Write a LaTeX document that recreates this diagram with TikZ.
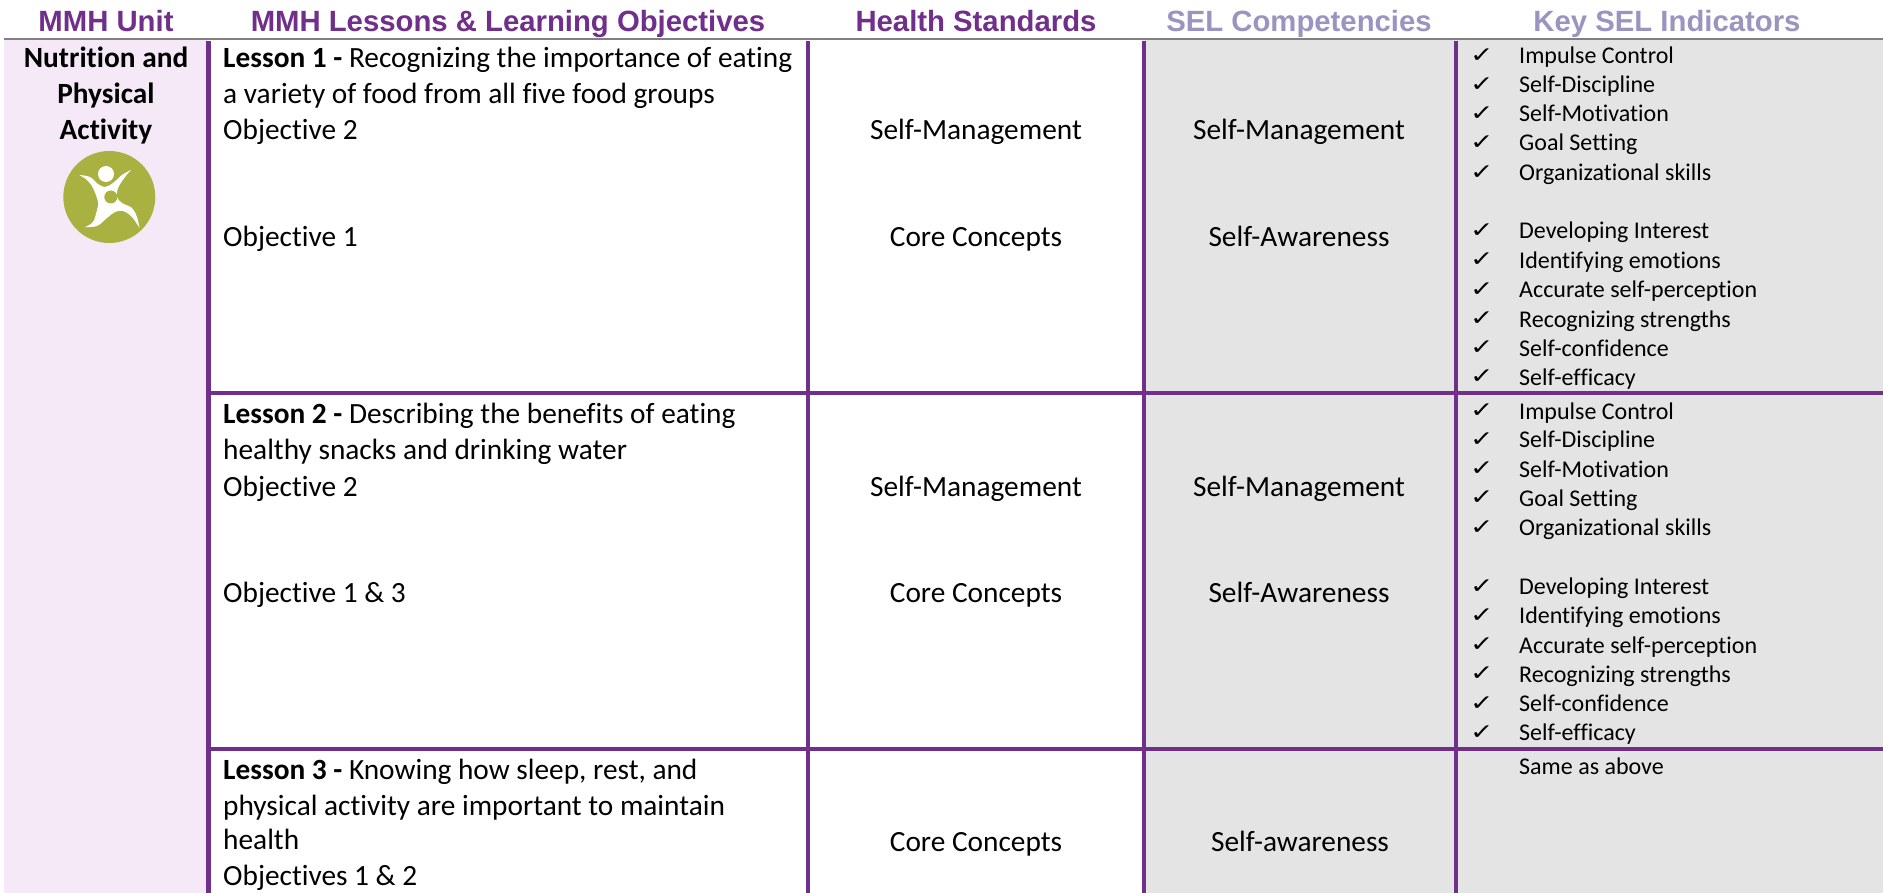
\documentclass[tikz,border=0pt]{standalone}
\usepackage{fontspec}
\setmainfont[RawFeature={-liga;-clig;-dlig}]{Carlito}
\newfontfamily\hdfont{Liberation Sans}
\newfontfamily\ckfont{DejaVu Sans}
\definecolor{mmhpurple}{HTML}{702F8A}
\definecolor{sellav}{HTML}{9B94C0}
\definecolor{cellgray}{HTML}{E4E4E4}
\definecolor{unitpink}{HTML}{F5E9F8}
\definecolor{icongreen}{HTML}{A9B240}
\definecolor{rulegray}{HTML}{808080}
\tikzset{
  x=1pt,y=-1pt,
  hd/.style={anchor=base,inner sep=0pt,font=\hdfont\bfseries\fontsize{29.3}{35}\selectfont},
  body/.style={anchor=base west,inner sep=0pt,font=\fontsize{29.33}{36}\selectfont},
  mid/.style={anchor=base,inner sep=0pt,font=\fontsize{29.33}{36}\selectfont},
  ind/.style={anchor=base west,inner sep=0pt,font=\fontsize{24}{29}\selectfont},
  ck/.style={anchor=base west,inner sep=0pt,yshift=1.5pt,font=\ckfont\fontsize{28}{30}\selectfont},
  vline/.style={draw=mmhpurple,line width=4.2pt},
}
\newcommand{\indrow}[3]{% y, name, text
  \node[ck] (c#2) at (1470,#1) {\scalebox{1}[.78]{✓}};
  \node[ind] (t#2) at (1519,#1) {#3};
}
\begin{document}
\begin{tikzpicture}
\useasboundingbox (0,0) rectangle (1883,893);
\fill[white] (0,0) rectangle (1883,893);
\fill[unitpink] (4,40) rectangle (208,893);
\fill[cellgray] (1143,40) rectangle (1883,893);
\draw[rulegray,line width=2.4pt] (4,39) -- (1883,39);
\foreach \x in {208.5,808,1144,1455.7} \draw[vline] (\x,41) -- (\x,893);
\foreach \y in {393,749} \draw[vline] (208.5,\y) -- (1883,\y);
% headers
\node[hd,text=mmhpurple] (h1) at (106,32) {MMH Unit};
\node[hd,text=mmhpurple] (h2) at (508,32) {MMH Lessons \& Learning Objectives};
\node[hd,text=mmhpurple] (h3) at (976,32) {Health Standards};
\node[hd,text=sellav] (h4) at (1299,32) {SEL Competencies};
\node[hd,text=sellav] (h5) at (1667,32) {Key SEL Indicators};
% unit
\node[mid,font=\bfseries\fontsize{29.33}{36}\selectfont] (u1) at (106,68) {Nutrition and};
\node[mid,font=\bfseries\fontsize{29.33}{36}\selectfont] (u2) at (106,104) {Physical};
\node[mid,font=\bfseries\fontsize{29.33}{36}\selectfont] (u3) at (106,140) {Activity};
% icon
\fill[icongreen] (109.3,197) circle (46);
\fill[white] plot[smooth,tension=.6] coordinates {(79.3,175) (90,177) (98,184) (105,187) (113,183) (122,175) (131,170)}
  -- plot[smooth,tension=.6] coordinates {(131,170) (125,177) (118,188) (117,197) (122,203) (132,208) (137,217) (139.5,228)}
  -- plot[smooth,tension=.6] coordinates {(139.5,228) (132,217) (123,211) (115,212) (107,218) (97,226) (85,227)}
  -- plot[smooth,tension=.6] coordinates {(85,227) (93,222) (97,210) (98,202) (93,188) (87,180) (79.3,175)} -- cycle;
\fill[white] (106,174) circle (8);
\fill[icongreen] (110.8,197) circle (6.5);
% lesson 1
\node[body] (l1a) at (223,68) {\textbf{Lesson 1 -} Recognizing the importance of eating};
\node[body] (l1b) at (223,104) {a variety of food from all five food groups};
\node[body] (l1c) at (223,140) {Objective 2};
\node[body] (l1d) at (223,247) {Objective 1};
\node[mid] (s1a) at (976,140) {Self-Management};
\node[mid] (s1b) at (976,247) {Core Concepts};
\node[mid] (k1a) at (1299,140) {Self-Management};
\node[mid] (k1b) at (1299,247) {Self-Awareness};
\indrow{64}{a1}{Impulse Control}
\indrow{93}{a2}{Self-Discipline}
\indrow{122}{a3}{Self-Motivation}
\indrow{151}{a4}{Goal Setting}
\indrow{181}{a5}{Organizational skills}
\indrow{239}{a6}{Developing Interest}
\indrow{268.5}{a7}{Identifying emotions}
\indrow{298}{a8}{Accurate self-perception}
\indrow{327.5}{a9}{Recognizing strengths}
\indrow{356.5}{a10}{Self-confidence}
\indrow{385.5}{a11}{Self-efficacy}
% lesson 2
\node[body] (l2a) at (223,423) {\textbf{Lesson 2 -} Describing the benefits of eating};
\node[body] (l2b) at (223,459) {healthy snacks and drinking water};
\node[body] (l2c) at (223,496) {Objective 2};
\node[body] (l2d) at (223,602.5) {Objective 1 \& 3};
\node[mid] (s2a) at (976,496) {Self-Management};
\node[mid] (s2b) at (976,602.5) {Core Concepts};
\node[mid] (k2a) at (1299,496) {Self-Management};
\node[mid] (k2b) at (1299,602.5) {Self-Awareness};
\indrow{419}{b1}{Impulse Control}
\indrow{447.5}{b2}{Self-Discipline}
\indrow{477}{b3}{Self-Motivation}
\indrow{506}{b4}{Goal Setting}
\indrow{535.5}{b5}{Organizational skills}
\indrow{594.5}{b6}{Developing Interest}
\indrow{623.5}{b7}{Identifying emotions}
\indrow{653}{b8}{Accurate self-perception}
\indrow{682}{b9}{Recognizing strengths}
\indrow{711.5}{b10}{Self-confidence}
\indrow{740.5}{b11}{Self-efficacy}
% lesson 3
\node[body] (l3a) at (223,779) {\textbf{Lesson 3 -} Knowing how sleep, rest, and};
\node[body] (l3b) at (223,815) {physical activity are important to maintain};
\node[body] (l3c) at (223,849) {health};
\node[body] (l3d) at (223,885) {Objectives 1 \& 2};
\node[mid] (s3a) at (976,851) {Core Concepts};
\node[mid] (k3a) at (1300,851) {Self-awareness};
\node[ind] (t3) at (1519,774) {Same as above};
\end{tikzpicture}
\end{document}
